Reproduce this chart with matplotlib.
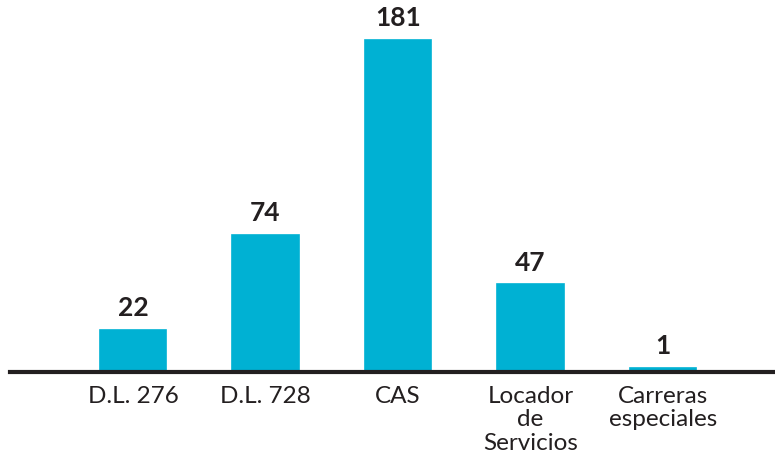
import matplotlib.pyplot as plt
import numpy as np

categories = ["D.L. 276", "D.L. 728", "CAS", "Locador\nde\nServicios", "Carreras\nespeciales"]
values = [22, 74, 181, 47, 1]

bar_color = "#00b1d3"
dark = "#231f20"

plt.rcParams["font.family"] = ["Lato", "DejaVu Sans"]

fig = plt.figure(figsize=(7.75, 4.63), dpi=100)
ax = fig.add_axes([10 / 775, 93 / 463, 765 / 775, 366.8 / 463])

# spine first: set_position resets tick formatting
for s in ["top", "right", "left"]:
    ax.spines[s].set_visible(False)
ax.spines["bottom"].set_position(("outward", 1.4))
ax.spines["bottom"].set_linewidth(3)
ax.spines["bottom"].set_color(dark)
ax.spines["bottom"].set_zorder(3)

x = np.arange(len(categories))
bars = ax.bar(x, values, width=0.5, color=bar_color, edgecolor=bar_color,
              linewidth=1.2, zorder=2)

for b, v in zip(bars, values):
    ax.annotate(str(v), (b.get_x() + b.get_width() / 2, v),
                xytext=(0, 7), textcoords="offset points",
                ha="center", va="bottom", fontsize=19, fontweight="bold", color=dark)

ax.set_xlim(-0.928, 4.845)
ax.set_ylim(0, 201)
ax.set_xticks(x)
ax.set_xticklabels(categories, fontsize=17.5, color=dark, linespacing=1.15)
ax.tick_params(axis="x", length=0, pad=10)
ax.set_yticks([])

fig.savefig("out.png", dpi=100)
